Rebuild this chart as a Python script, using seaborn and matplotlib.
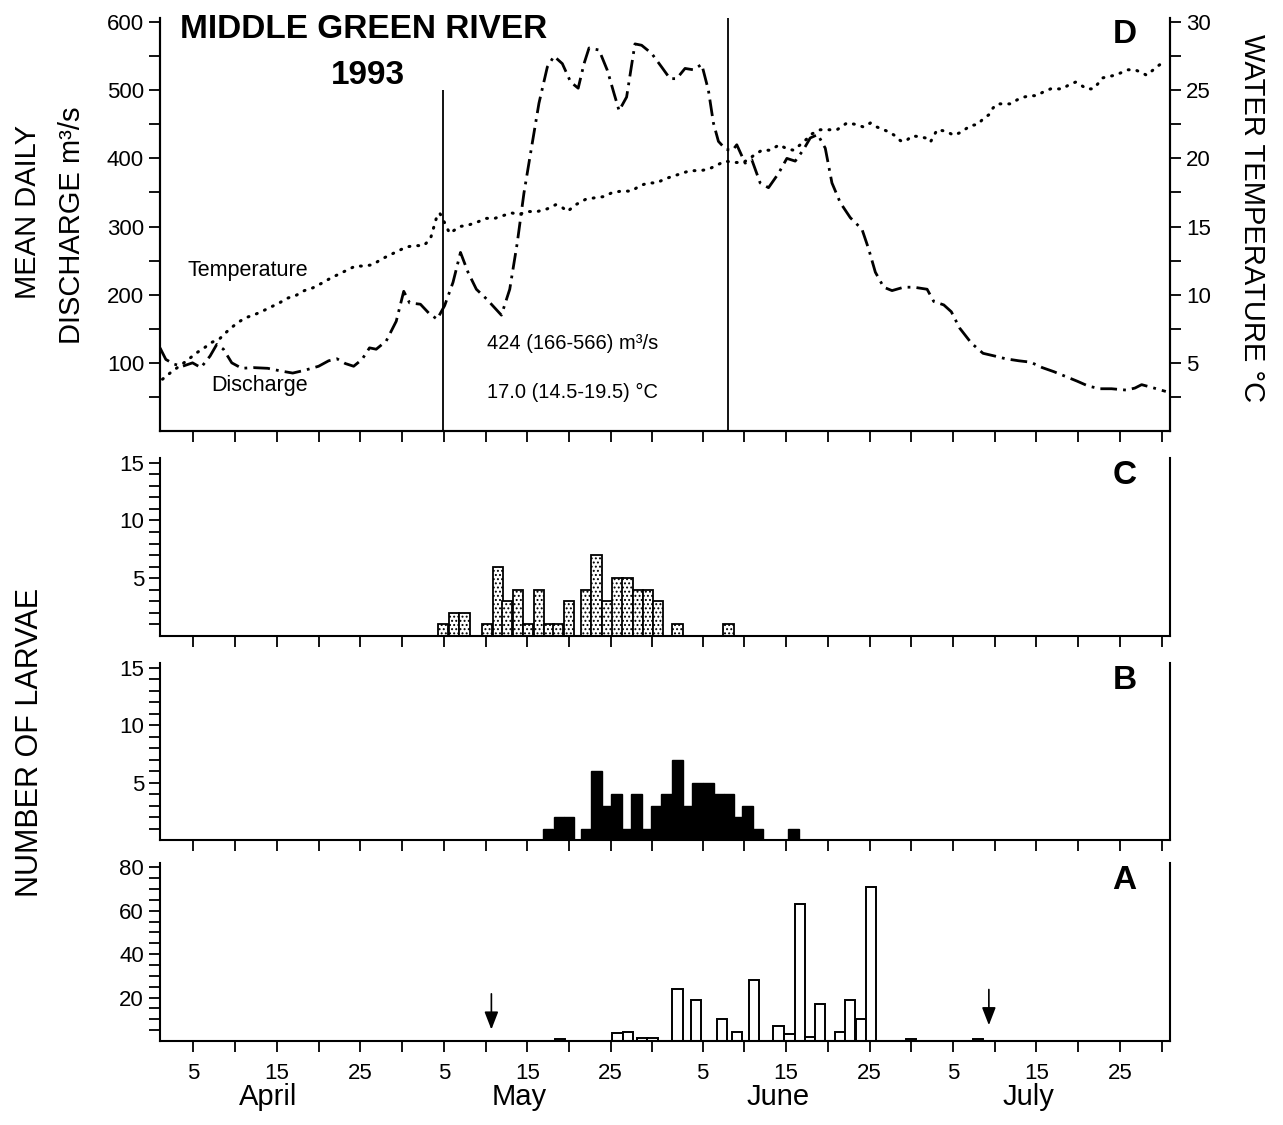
import numpy as np
import pandas as pd
import matplotlib
matplotlib.use("Agg")
import matplotlib.pyplot as plt
import seaborn as sns
from matplotlib.ticker import FixedLocator, NullFormatter

# ---------------- data (x = days since 1 April 1993) ----------------
q_day = [0.0, 0.7, 1.7, 2.7, 3.9, 4.9, 6.0, 6.8, 7.6, 8.6, 9.8, 11.2, 12.9, 14.5, 15.9,
         17.3, 19.0, 20.2, 21.2, 22.2, 23.2, 24.2, 25.1, 25.9, 27.1, 28.3, 29.2, 29.9,
         31.2, 32.2, 33.2, 34.1, 35.1, 36.0, 36.9, 37.9, 39.1, 40.9, 41.9, 42.8, 43.6,
         44.4, 45.4, 46.4, 47.2, 48.2, 49.2, 50.1, 50.8, 51.4, 52.6, 53.6, 54.4, 55.0,
         55.9, 56.9, 57.7, 58.9, 60.1, 61.1, 61.9, 62.9, 63.9, 64.9, 65.7, 66.3, 66.9,
         67.8, 68.6, 69.1, 70.1, 70.9, 71.9, 72.9, 74.1, 75.1, 76.1, 77.1, 77.9, 78.8,
         79.7, 80.5, 81.5, 82.7, 84.1, 84.9, 85.7, 86.7, 87.7, 89.1, 90.3, 91.9, 92.7,
         93.9, 94.8, 95.8, 97.2, 98.6, 100.0, 101.3, 102.9, 104.3, 105.7, 107.1, 108.5,
         109.9, 111.2, 112.6, 114.0, 115.8, 116.8, 117.6, 118.8, 120.5]
q_val = [122, 105, 98, 95, 100, 93, 110, 127, 120, 100, 92, 93, 92, 88, 85,
         89, 95, 103, 106, 99, 95, 105, 122, 120, 132, 161, 205, 188,
         186, 173, 164, 184, 218, 262, 233, 208, 194, 170, 208, 276, 349,
         408, 481, 534, 550, 539, 512, 503, 539, 562, 559, 529, 495, 470,
         490, 568, 566, 554, 534, 517, 517, 532, 530, 538, 500, 452, 425,
         413, 412, 420, 393, 398, 364, 357, 378, 400, 396, 413, 430, 435,
         415, 364, 335, 313, 296, 267, 233, 211, 206, 211, 211, 208, 190,
         185, 175, 151, 129, 114, 110, 106, 103, 101, 93, 87, 80,
         73, 66, 62, 62, 60, 63, 68, 64, 58]

t_day = [0.3, 1.3, 2.3, 3.3, 4.3, 5.3, 6.2, 7.2, 8.2, 9.2, 10.2, 11.2, 12.3, 13.3, 14.3,
         15.3, 16.3, 17.3, 18.3, 19.4, 20.4, 21.4, 22.4, 23.4, 24.4, 25.5, 26.5, 27.5,
         28.5, 29.5, 30.5, 31.6, 32.4, 33.1, 33.5, 34.0, 34.7, 35.9, 36.9, 37.9, 39.1,
         40.1, 41.1, 42.1, 43.0, 44.2, 45.2, 46.4, 47.4, 48.2, 48.8, 49.8, 51.0, 52.0,
         53.2, 54.2, 55.3, 56.5, 57.5, 58.5, 59.5, 60.5, 61.5, 62.5, 63.5, 64.7, 65.7,
         66.7, 67.7, 68.9, 69.9, 71.1, 72.1, 73.1, 74.2, 75.1, 75.9, 77.1, 78.1, 79.1,
         80.1, 81.1, 82.3, 83.3, 84.3, 85.1, 85.9, 86.7, 87.3, 88.1, 88.7, 89.3, 90.1,
         90.9, 91.7, 92.3, 93.1, 94.1, 95.1, 95.9, 97.1, 98.0, 98.6, 99.3, 99.8, 100.3,
         101.1, 101.9, 102.7, 103.5, 104.3, 105.0, 105.9, 106.7, 107.5, 108.1, 108.9,
         109.7, 110.4, 111.0, 111.8, 112.4, 112.9, 113.6, 114.4, 115.2, 116.0, 116.8,
         117.6, 118.2, 119.0, 119.6, 120.3]
t_val = [3.8, 4.3, 4.75, 5.2, 5.7, 6.1, 6.5, 6.8, 7.4, 7.9, 8.3, 8.5, 8.8, 9.1, 9.4,
         9.75, 9.95, 10.3, 10.5, 10.85, 11.2, 11.5, 11.8, 12.1, 12.1, 12.2, 12.6, 12.9,
         13.2, 13.5, 13.6, 13.6, 14.1, 15.6, 16.0, 15.4, 14.5, 15.0, 15.1, 15.3, 15.6,
         15.6, 15.8, 16.0, 15.9, 16.1, 16.1, 16.3, 16.6, 16.4, 16.1, 16.6, 17.0, 17.1,
         17.2, 17.5, 17.6, 17.6, 18.0, 18.2, 18.2, 18.5, 18.7, 18.9, 19.1, 19.1, 19.2,
         19.5, 19.8, 19.7, 19.7, 20.2, 20.6, 20.6, 21.0, 20.7, 20.6, 21.2, 21.8, 22.1,
         22.1, 22.1, 22.6, 22.5, 22.3, 22.6, 22.3, 22.1, 21.95, 21.65, 21.3, 21.25, 21.65,
         21.6, 21.5, 21.2, 22.1, 22.0, 21.7, 21.9, 22.4, 22.5, 22.9, 23.2, 23.7, 24.0,
         24.0, 24.0, 24.3, 24.5, 24.6, 24.6, 24.9, 25.1, 25.1, 25.1, 25.4,
         25.6, 25.35, 25.1, 25.1, 25.5, 25.9, 26.0, 26.1, 26.3, 26.5, 26.5,
         26.3, 26.1, 26.5, 26.8, 27.1]

# larvae counts (C, B, A panels)
c_day = [33.9, 35.2, 36.5, 39.2, 40.5, 41.6, 42.9, 44.1, 45.4, 46.6, 47.7, 49.0, 51.0,
         52.3, 53.6, 54.8, 56.0, 57.3, 58.5, 59.7, 62.0, 68.1]
c_num = [1, 2, 2, 1, 6, 3, 4, 1, 4, 1, 1, 3, 4, 7, 3, 5, 5, 4, 4, 3, 1, 1]

b_day = [46.5, 47.8, 49.0, 51.0, 52.3, 53.5, 54.7, 55.9, 57.1, 58.3, 59.4, 60.7, 62.0,
         63.2, 64.4, 65.7, 67.0, 68.2, 69.3, 70.4, 71.6, 75.9]
b_num = [1, 2, 2, 1, 6, 3, 4, 1, 4, 1, 3, 4, 7, 3, 5, 5, 4, 4, 2, 3, 1, 1]

a_day = [47.9, 54.8, 56.1, 57.8, 59.0, 62.0, 64.2, 67.3, 69.1, 71.2, 74.1, 75.4, 76.7,
         77.9, 79.1, 81.5, 82.7, 84.0, 85.2, 90.0, 98.0]
a_num = [1, 3.5, 4, 1.5, 1.5, 24, 19, 10, 4, 28, 7, 3, 63, 2, 17, 4, 19, 10, 71, 1, 1]

arrow_day = [39.7, 99.3]
month_names = ["April", "May", "June", "July"]
month_start = [0, 30, 61, 91]

# ---------------- style ----------------
sns.set_theme(style="ticks")
plt.rcParams['font.family'] = ['Liberation Sans', 'DejaVu Sans']
plt.rcParams['hatch.linewidth'] = 0.9
plt.rcParams['axes.linewidth'] = 1.5
for k in ('text.color', 'axes.labelcolor', 'xtick.color', 'ytick.color',
          'xtick.labelcolor', 'ytick.labelcolor', 'axes.edgecolor'):
    plt.rcParams[k] = 'black'

W, H = 1283, 1125
fig = plt.figure(figsize=(W / 100, H / 100), dpi=100)

L, R = 160, 1170
XMIN, XMAX = 0.0, 121.0

def add_ax(top, bottom):
    return fig.add_axes([L / W, 1 - bottom / H, (R - L) / W, (bottom - top) / H])

axD = add_ax(18, 431)
axC = add_ax(458, 636)
axB = add_ax(663, 840)
axA = add_ax(863, 1041)

tick_pos = [ms + d - 1 for ms in month_start for d in (5, 10, 15, 20, 25, 30)]

TS = 16
for ax in (axD, axC, axB, axA):
    ax.set_xlim(XMIN, XMAX)
    ax.spines['top'].set_visible(False)
    for s in ('left', 'right', 'bottom'):
        ax.spines[s].set_visible(True)
        ax.spines[s].set_linewidth(1.5)
        ax.spines[s].set_color('black')
    ax.xaxis.set_major_locator(FixedLocator(tick_pos))
    ax.xaxis.set_major_formatter(NullFormatter())
    ax.tick_params(axis='x', direction='out', length=8, width=1.3, color='black')
    ax.tick_params(axis='y', which='both', direction='out', length=8, width=1.3,
                   color='black', labelsize=TS, labelcolor='black', left=True, right=False)
    ax.set_facecolor('white')

# bottom labels
labels = []
for p in tick_pos:
    ms = max(m for m in month_start if m <= p)
    dom = int(round(p - ms)) + 1
    labels.append(str(dom) if dom in (5, 15, 25) else "")
axA.set_xticks(tick_pos)
axA.set_xticklabels(labels, fontsize=TS, color='black')
axA.tick_params(axis='x', pad=8)
for name, ms in zip(month_names, month_start):
    axA.text(ms + 13, -0.235, name, transform=axA.get_xaxis_transform(),
             ha='center', va='top', fontsize=21, color='black')

# ---------------- panel D ----------------
axD.set_ylim(0, 606)
axD.yaxis.set_major_locator(FixedLocator(list(range(100, 601, 100))))
axD.yaxis.set_minor_locator(FixedLocator(list(range(50, 601, 100))))
axD.yaxis.set_minor_formatter(NullFormatter())
axD.tick_params(axis='y', which='both', length=8)

sns.lineplot(x=q_day, y=q_val, ax=axD, color='black', linewidth=2.0,
             linestyle=(0, (6, 2.2, 1, 2.2)))
ax2 = axD.twinx()
ax2.set_ylim(0, 30.3)
ax2.set_xlim(XMIN, XMAX)
sns.lineplot(x=t_day, y=t_val, ax=ax2, color='black', linewidth=2.2,
             linestyle=(0, (0.3, 2.6)), dash_capstyle='round')
ax2.spines['top'].set_visible(False)
ax2.spines['right'].set_linewidth(1.5)
ax2.spines['right'].set_color('black')
ax2.yaxis.set_major_locator(FixedLocator([5, 10, 15, 20, 25, 30]))
ax2.yaxis.set_minor_locator(FixedLocator([2.5, 7.5, 12.5, 17.5, 22.5, 27.5]))
ax2.yaxis.set_minor_formatter(NullFormatter())
ax2.tick_params(axis='y', which='both', direction='out', length=8, width=1.3,
                color='black', labelsize=TS, labelcolor='black',
                right=True, left=False, labelright=True)
ax2.set_ylabel('')
axD.set_ylabel('')
axD.set_xlabel('')

axD.vlines(33.9, 0, 500, color='black', linewidth=1.3)
axD.vlines(68.1, 0, 606, color='black', linewidth=1.3)

axD.text(3.3, 236, "Temperature", fontsize=15.5, va='center', ha='left')
axD.text(6.1, 67, "Discharge", fontsize=15.5, va='center', ha='left')
axD.text(39.2, 129, "424 (166-566) m\u00b3/s", fontsize=14.5, va='center', ha='left')
axD.text(39.2, 56, "17.0 (14.5-19.5) \u00b0C", fontsize=14.5, va='center', ha='left')

fig.text(180 / W, 1 - 30 / H, "MIDDLE GREEN RIVER", fontsize=24, fontweight='bold',
         ha='left', va='center')
fig.text(368 / W, 1 - 75 / H, "1993", fontsize=24, fontweight='bold',
         ha='center', va='center')

# ---------------- bar panels ----------------
BW = 1.24
axC.bar(c_day, c_num, width=BW, color='white', edgecolor='black', linewidth=1.3,
        hatch='....')
axB.bar(b_day, b_num, width=BW, color='black', edgecolor='black', linewidth=1.0)
axA.bar(a_day, a_num, width=BW, color='white', edgecolor='black', linewidth=1.4)

for ax in (axC, axB):
    ax.set_ylim(0, 15.4)
    ax.yaxis.set_major_locator(FixedLocator([5, 10, 15]))
    ax.yaxis.set_minor_locator(FixedLocator([v for v in range(1, 16) if v % 5]))
    ax.yaxis.set_minor_formatter(NullFormatter())
axA.set_ylim(0, 82)
axA.yaxis.set_major_locator(FixedLocator([20, 40, 60, 80]))
axA.yaxis.set_minor_locator(FixedLocator([v for v in range(5, 81, 5) if v % 20]))
axA.yaxis.set_minor_formatter(NullFormatter())

for ax in (axC, axB, axA):
    ax.tick_params(axis='y', which='minor', length=8, width=1.3)

for xd, (y0, y1) in zip(arrow_day, [(23, 4), (25, 6)]):
    axA.annotate("", xy=(xd, y1), xytext=(xd, y0),
                 arrowprops=dict(arrowstyle='-|>,head_length=0.9,head_width=0.35',
                                 color='black', lw=1.2))

# panel letters
for ax, letter in ((axD, 'D'), (axC, 'C'), (axB, 'B'), (axA, 'A')):
    ax.text(0.955, 0.96 if ax is axD else 0.9, letter, transform=ax.transAxes,
            fontsize=24, fontweight='bold', ha='center', va='center')

# axis titles
fig.text(28 / W, 1 - 212 / H, "MEAN DAILY", rotation=90, fontsize=21,
         ha='center', va='center')
fig.text(72 / W, 1 - 225 / H, "DISCHARGE m\u00b3/s", rotation=90, fontsize=21,
         ha='center', va='center')
fig.text(30 / W, 1 - 742 / H, "NUMBER OF LARVAE", rotation=90, fontsize=22,
         ha='center', va='center')
fig.text(1252 / W, 1 - 218 / H, "WATER TEMPERATURE \u00b0C", rotation=270, fontsize=21,
         ha='center', va='center')

fig.savefig("out.png", dpi=100, facecolor='white')
